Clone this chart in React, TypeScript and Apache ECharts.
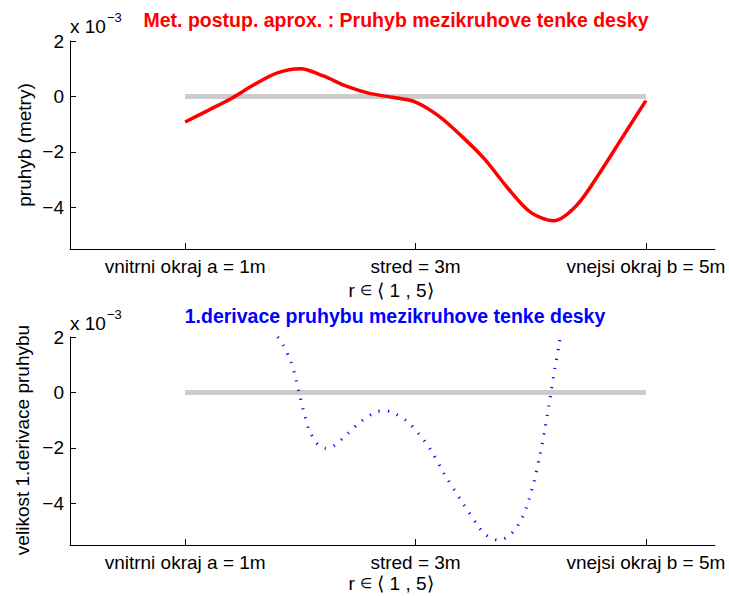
import React, { useEffect, useRef } from "react";
import * as echarts from "echarts";

// Radial position r [m]; all deflection values are in units of 10^-3.
const deflectionR = [1.0, 1.2, 1.4, 1.6, 1.8, 2.0, 2.2, 2.4, 2.6, 2.8, 3.0, 3.2, 3.4, 3.6, 3.8, 4.0, 4.2, 4.4, 4.6, 4.8, 5.0];
const deflection = [-0.92, -0.5, -0.07, 0.43, 0.85, 1.0, 0.74, 0.37, 0.11, -0.03, -0.2, -0.7, -1.43, -2.26, -3.3, -4.18, -4.48, -3.92, -2.75, -1.45, -0.15];

const derivativeR = [1.804, 1.85, 1.917, 1.96, 1.995, 2.033, 2.076, 2.149, 2.221, 2.293, 2.409, 2.525, 2.655, 2.727, 2.8, 2.93, 3.036, 3.132, 3.247, 3.412, 3.542, 3.589, 3.652, 3.724, 3.797, 3.855, 3.9, 3.933, 3.96, 3.985, 4.028, 4.078, 4.122, 4.173, 4.21, 4.251, 4.262];
const derivative = [2.0, 1.72, 1.12, 0.5, -0.1, -0.75, -1.35, -1.87, -2.01, -1.92, -1.49, -1.05, -0.71, -0.66, -0.72, -1.05, -1.53, -2.07, -2.92, -4.0, -4.81, -5.06, -5.24, -5.33, -5.21, -4.99, -4.72, -4.46, -4.18, -3.86, -3.24, -2.29, -1.35, -0.08, 0.88, 1.84, 2.1];

// zero reference line between the inner and outer edge
const zeroLineR = [1, 5];
const zeroLine = [0, 0];

const xTickValues = [1, 3, 5];
const xTickLabels = ["vnitrni okraj a = 1m", "stred = 3m", "vnejsi okraj b = 5m"];
const yTickValues = [-4, -2, 0, 2];

const FONT = "'Liberation Sans', Arial, Helvetica, sans-serif";

const zip = (xs: number[], ys: number[]) => xs.map((x, i) => [x, ys[i]]);

function xAxisFor(gridIndex: number) {
  return {
    type: "value",
    gridIndex,
    min: 0,
    max: 5.6,
    axisLine: { show: true, onZero: false, lineStyle: { color: "#000", width: 1 } },
    axisTick: { show: true, inside: true, length: 6, customValues: xTickValues, lineStyle: { color: "#000", width: 1 } },
    axisLabel: {
      customValues: xTickValues,
      formatter: (v: number) => xTickLabels[xTickValues.indexOf(v)] ?? "",
      color: "#000",
      fontSize: 19,
      fontFamily: FONT,
      margin: 8,
    },
    splitLine: { show: false },
  };
}

function yAxisFor(gridIndex: number) {
  return {
    type: "value",
    gridIndex,
    min: -5.5,
    max: 2,
    axisLine: { show: true, onZero: false, lineStyle: { color: "#000", width: 1 } },
    axisTick: { show: true, inside: true, length: 6, customValues: yTickValues, lineStyle: { color: "#000", width: 1 } },
    axisLabel: {
      customValues: yTickValues,
      formatter: (v: number) => (v < 0 ? "\u2212" + Math.abs(v) : String(v)),
      color: "#000",
      fontSize: 19,
      fontFamily: FONT,
      margin: 6,
    },
    splitLine: { show: false },
  };
}

function text(x: number, y: number, str: string, opts: any = {}) {
  const align = opts.align ?? "center";
  return {
    type: "text",
    x,
    y,
    rotation: opts.rotation ?? 0,
    style: {
      text: str,
      fill: opts.color ?? "#000",
      fontSize: opts.size ?? 19,
      fontWeight: opts.weight ?? "normal",
      fontFamily: FONT,
      align,
      textAlign: align,
      verticalAlign: "middle",
      textVerticalAlign: "middle",
      rich: opts.rich,
    },
  };
}

// axis name "r ∈ ⟨ 1 , 5⟩" with a smaller element-of sign
const rangeRich = {
  a: { fontSize: 19, fontFamily: FONT, fill: "#000", color: "#000" },
  b: { fontSize: 14, fontFamily: FONT, fill: "#000", color: "#000" },
};
const rangeText = "{a|r }{b|\u2208}{a| \u27E8 1 , 5\u27E9}";

export default function App() {
  const ref = useRef<HTMLDivElement>(null);

  useEffect(() => {
    if (!ref.current) return;
    const chart = echarts.init(ref.current, undefined, { renderer: "svg" });
    chart.setOption({
      animation: false,
      backgroundColor: "#fff",
      grid: [
        { left: 70, top: 41, width: 645, height: 208 },
        { left: 70, top: 337, width: 645, height: 208 },
      ],
      xAxis: [xAxisFor(0), xAxisFor(1)],
      yAxis: [yAxisFor(0), yAxisFor(1)],
      series: [
        {
          type: "line",
          xAxisIndex: 0,
          yAxisIndex: 0,
          data: zip(zeroLineR, zeroLine),
          showSymbol: false,
          lineStyle: { color: "#cccccc", width: 5, cap: "butt" },
          z: 1,
        },
        {
          type: "line",
          xAxisIndex: 0,
          yAxisIndex: 0,
          data: zip(deflectionR, deflection),
          smooth: 0.3,
          showSymbol: false,
          lineStyle: { color: "#ff0000", width: 3.5 },
          z: 2,
        },
        {
          type: "line",
          xAxisIndex: 1,
          yAxisIndex: 1,
          data: zip(zeroLineR, zeroLine),
          showSymbol: false,
          lineStyle: { color: "#cccccc", width: 5, cap: "butt" },
          z: 1,
        },
        {
          type: "line",
          xAxisIndex: 1,
          yAxisIndex: 1,
          data: zip(derivativeR, derivative),
          smooth: 0.3,
          showSymbol: false,
          clip: true,
          lineStyle: { color: "#0000ff", width: 3, type: [1.2, 8.3], cap: "butt" },
          z: 2,
        },
      ],
      graphic: [
        text(396, 19.5, "Met. postup. aprox. : Pruhyb mezikruhove tenke desky", { color: "#ff0000", weight: "bold", size: 19.5 }),
        text(70, 26, "x 10", { align: "left" }),
        text(107, 17, "\u22123", { align: "left", size: 13 }),
        text(24, 145, "pruhyb (metry)", { rotation: Math.PI / 2 }),
        text(391, 290, rangeText, { rich: rangeRich }),

        text(395, 316, "1.derivace pruhybu mezikruhove tenke desky", { color: "#0000ff", weight: "bold", size: 19.5 }),
        text(70, 323, "x 10", { align: "left" }),
        text(107, 314, "\u22123", { align: "left", size: 13 }),
        text(22, 440, "velikost 1.derivace pruhybu", { rotation: Math.PI / 2 }),
        text(391, 583, rangeText, { rich: rangeRich }),
      ],
    });
    return () => chart.dispose();
  }, []);

  return (
    <div
      ref={ref}
      style={{ position: "fixed", left: 0, top: 0, width: 729, height: 596, background: "#fff" }}
    />
  );
}
